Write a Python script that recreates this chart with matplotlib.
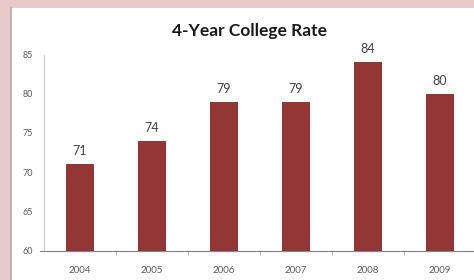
import matplotlib.pyplot as plt
from matplotlib.patches import Rectangle
from matplotlib.lines import Line2D

years = ['2004', '2005', '2006', '2007', '2008', '2009']
rates = [71, 74, 79, 79, 84, 80]
yticks = [60, 65, 70, 75, 80, 85]

bar_color = '#943634'
text_color = '#404040'

fig = plt.figure(figsize=(4.74, 2.80), dpi=100)
fig.patch.set_facecolor('#e8c9ca')

# white chart panel with a thin shadow on the left edge
fig.add_artist(Rectangle((11 / 474, 0), 1, 1 - 8 / 280, transform=fig.transFigure,
                         facecolor='white', edgecolor='none', zorder=0))
fig.add_artist(Line2D([10.5 / 474, 10.5 / 474], [0, 1 - 8 / 280], transform=fig.transFigure,
                      color='#b8a8a8', lw=1.2, zorder=0))

ax = fig.add_axes([44 / 474, 29.5 / 280, 432 / 474, 196 / 280])
ax.set_facecolor('none')

x = range(len(years))
bars = ax.bar(x, rates, width=0.4, color=bar_color, zorder=2)
for xi, v in zip(x, rates):
    ax.annotate(str(v), (xi, v), xytext=(0, 5), textcoords='offset points',
                ha='center', va='bottom', fontsize=9, color=text_color, family='Lato')

ax.set_xlim(-0.5, len(years) - 0.5)
ax.set_ylim(60, 85)
ax.set_yticks(yticks)
ax.set_yticklabels([str(t) for t in yticks], fontsize=6.5, color='#595959', family='Lato')
ax.set_xticks(list(x))
ax.set_xticklabels(years, fontsize=7, color='#595959', family='Lato')
ax.set_xticks([i + 0.5 for i in range(len(years))], minor=True)
ax.tick_params(axis='x', which='major', length=0, pad=11)
ax.tick_params(axis='x', which='minor', length=3, color='#a0a0a0', direction='out')
ax.tick_params(axis='y', length=0, pad=8)

for s in ['top', 'right']:
    ax.spines[s].set_visible(False)
ax.spines['left'].set_color('#c8c8c8')
ax.spines['left'].set_linewidth(0.8)
ax.spines['bottom'].set_color('#808080')
ax.spines['bottom'].set_linewidth(0.8)
ax.spines['bottom'].set_bounds(-0.55, len(years) - 0.5)
ax.spines['bottom'].set_clip_on(False)

fig.text(249 / 474, 1 - 31 / 280, '4-Year College Rate', ha='center', va='center',
         fontsize=12.5, fontweight='bold', color='#1a1a1a', family='Lato')

fig.savefig('out.png', dpi=100, facecolor=fig.get_facecolor())
